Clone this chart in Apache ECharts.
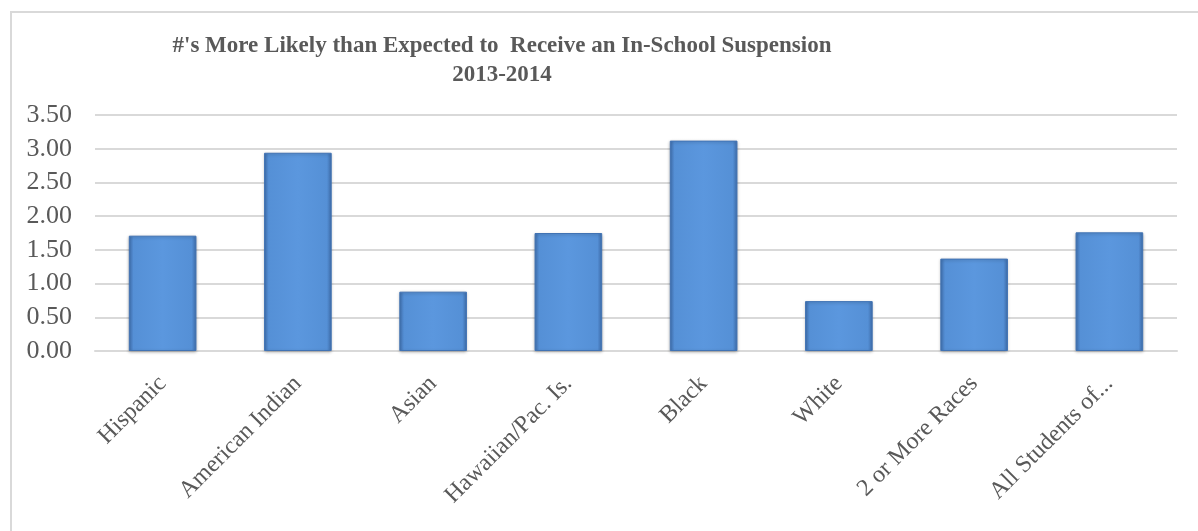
<!DOCTYPE html>
<html>
<head>
<meta charset="utf-8">
<script src="https://cdn.jsdelivr.net/npm/echarts@6/dist/echarts.min.js"></script>
<style>
  html, body { margin: 0; padding: 0; background: #ffffff; }
  #chart { width: 1198px; height: 531px; }
</style>
</head>
<body>
<div id="chart"></div>
<script>
// Ratio of in-school suspensions received vs. expected, by student group, 2013-2014
const categories = [
  'Hispanic', 'American Indian', 'Asian', 'Hawaiian/Pac. Is.',
  'Black', 'White', '2 or More Races', 'All Students of...'
];
const ratios = [1.71, 2.94, 0.88, 1.75, 3.12, 0.74, 1.37, 1.76];
const yTicks = { min: 0, max: 3.5, interval: 0.5 };

const chart = echarts.init(document.getElementById('chart'), null, { renderer: 'canvas' });

const serif = '"Liberation Serif", "DejaVu Serif", serif';

chart.setOption({
  backgroundColor: '#ffffff',
  animation: false,
  graphic: [
    {
      type: 'rect',
      shape: { x: 11, y: 12, width: 1300, height: 600 },
      style: { fill: 'none', stroke: '#d9d9d9', lineWidth: 2 },
      silent: true
    }
  ],
  title: {
    text: "#'s More Likely than Expected to  Receive an In-School Suspension\n2013-2014",
    left: 497,
    top: 27,
    textAlign: 'center',
    textStyle: {
      fontFamily: serif,
      fontWeight: 'bold',
      fontSize: 23,
      lineHeight: 29,
      color: '#595959'
    }
  },
  grid: { left: 95, right: 21, top: 115, bottom: 180, containLabel: false },
  xAxis: {
    type: 'category',
    data: categories,
    axisLine: { show: true, lineStyle: { color: '#d9d9d9', width: 2 } },
    axisTick: { show: false },
    axisLabel: {
      interval: 0,
      rotate: 45,
      margin: 29,
      fontFamily: serif,
      fontSize: 24,
      color: '#595959'
    }
  },
  yAxis: {
    type: 'value',
    min: yTicks.min,
    max: yTicks.max,
    interval: yTicks.interval,
    axisLine: { show: false },
    axisTick: { show: false },
    splitLine: { lineStyle: { color: '#d9d9d9', width: 2 } },
    axisLabel: {
      margin: 23,
      fontFamily: serif,
      fontSize: 26,
      color: '#595959',
      formatter: v => v.toFixed(2)
    }
  },
  series: [
    {
      type: 'bar',
      data: ratios,
      barWidth: '50%',
      itemStyle: {
        color: {
          type: 'linear', x: 0, y: 0, x2: 1, y2: 0,
          colorStops: [
            { offset: 0, color: '#3f6fae' },
            { offset: 0.07, color: '#5590d6' },
            { offset: 0.5, color: '#5b97de' },
            { offset: 0.93, color: '#5590d6' },
            { offset: 1, color: '#3f6fae' }
          ]
        },
        borderColor: '#4173b4',
        borderWidth: 1,
        shadowColor: 'rgba(0,0,0,0.25)',
        shadowBlur: 3,
        shadowOffsetY: 1
      }
    }
  ]
});
</script>
</body>
</html>
